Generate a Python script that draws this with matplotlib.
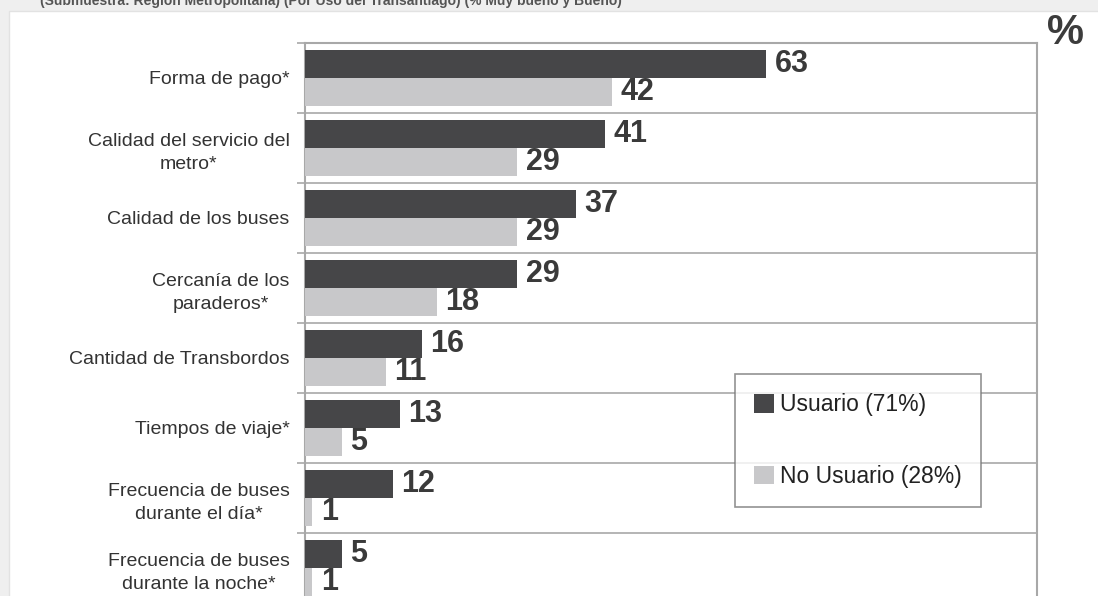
import numpy as np
import matplotlib
matplotlib.use("Agg")
import matplotlib.pyplot as plt
from matplotlib.patches import Rectangle

plt.rcParams['font.family'] = ['Liberation Sans', 'DejaVu Sans']

categorias = [
    "Forma de pago*",
    "Calidad del servicio del\nmetro*",
    "Calidad de los buses",
    "Cercanía de los\nparaderos*",
    "Cantidad de Transbordos",
    "Tiempos de viaje*",
    "Frecuencia de buses\ndurante el día*",
    "Frecuencia de buses\ndurante la noche*",
]
usuario = [63, 41, 37, 29, 16, 13, 12, 5]
no_usuario = [42, 29, 29, 18, 11, 5, 1, 1]
leyenda = ["Usuario (71%)", "No Usuario (28%)"]
titulo = "(Submuestra: Región Metropolitana) (Por Uso del Transantiago) (% Muy bueno y Bueno)"

oscuro = "#464648"
claro = "#c8c8ca"
texto = "#333333"
linea = "#a8a8a8"

W, H = 1098, 596
fig = plt.figure(figsize=(W / 100, H / 100), dpi=100)
fig.patch.set_facecolor("#efefef")

# white panel behind everything
fig.patches.append(Rectangle((9 / W, -0.01), 1, 1 - 11 / H + 0.01, transform=fig.transFigure,
                             facecolor="white", edgecolor="#e2e2e2", lw=1, zorder=-10))
fig.text(40 / W, 1 - 1 / H, titulo, fontsize=10, fontweight="bold", color="#555555",
         va="center", ha="left")
fig.text(1065 / W, 1 - 33 / H, "%", fontsize=30, fontweight="bold", color="#3c3c3c",
         va="center", ha="center")

ax = fig.add_axes([305 / W, -7 / H, 732 / W, 560 / H])
ax.set_facecolor("none")
y = np.arange(len(categorias))
h = 0.4
b1 = ax.barh(y - h / 2, usuario, height=h, color=oscuro, label=leyenda[0], zorder=3)
b2 = ax.barh(y + h / 2, no_usuario, height=h, color=claro, label=leyenda[1], zorder=3)

for bars, vals in ((b1, usuario), (b2, no_usuario)):
    for bar, v in zip(bars, vals):
        ax.annotate(str(v), (bar.get_width(), bar.get_y() + bar.get_height() / 2),
                    xytext=(6, 0), textcoords="offset points", va="center", ha="left",
                    fontsize=22, fontweight="bold", color="#3a3a3a")

ax.set_xlim(0, 100)
ax.set_ylim(len(categorias) - 0.5, -0.5)
ax.set_xticks([])
ax.set_yticks(y)
ax.set_yticklabels(categorias, fontsize=14, color=texto, multialignment="center",
                   linespacing=1.45)
ax.tick_params(axis="y", which="major", length=0, pad=11)
ax.set_yticks(np.arange(len(categorias) + 1) - 0.5, minor=True)
ax.tick_params(axis="y", which="minor", length=6, width=1.2, color=linea)
ax.grid(axis="y", which="minor", color=linea, lw=1.2, zorder=1)

for s in ax.spines.values():
    s.set_color(linea)
    s.set_linewidth(1.5)
ax.spines["bottom"].set_visible(False)

leg = ax.legend(loc="upper left", bbox_to_anchor=(430 / 732, (603 - 374) / 560),
                fontsize=16.5, frameon=True, fancybox=False, edgecolor="#777777",
                handlelength=0.85, handleheight=0.85, handletextpad=0.25,
                labelspacing=2.1, borderpad=0.85, borderaxespad=0)
leg.get_frame().set_linewidth(1.2)
for t in leg.get_texts():
    t.set_color("#222222")

fig.savefig("out.png", dpi=100, facecolor=fig.get_facecolor())
